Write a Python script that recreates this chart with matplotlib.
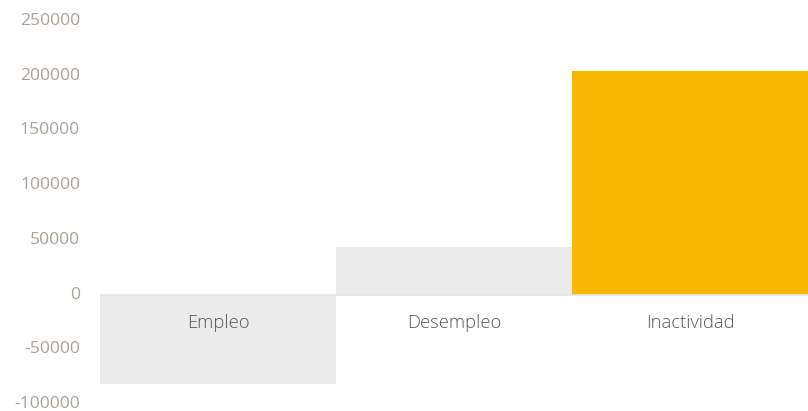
import matplotlib
matplotlib.use("Agg")
import matplotlib.pyplot as plt
from matplotlib.transforms import blended_transform_factory, offset_copy

categories = ["Empleo", "Desempleo", "Inactividad"]
values = [-81800, 43400, 204300]
colors = ["#ebebeb", "#ebebeb", "#f9b800"]
yticks = [-100000, -50000, 0, 50000, 100000, 150000, 200000, 250000]

plt.rcParams['font.family'] = ['Open Sans', 'DejaVu Sans']

fig = plt.figure(figsize=(8.08, 4.11), dpi=100)
ax = fig.add_axes([100/808, 7/411, 708/808, 383/411])

x = list(range(len(categories)))
ax.bar(x, values, width=1.0, color=colors, zorder=2)
ax.axhline(0, color="#e4e4e4", linewidth=1.2, zorder=3)

ax.set_xlim(-0.5, 2.5)
ax.set_ylim(-100000, 250000)
ax.set_yticks(yticks)
ax.set_yticklabels([])
ax.tick_params(axis='y', length=0)
ax.set_xticks([])
for s in ax.spines.values():
    s.set_visible(False)

trans = blended_transform_factory(ax.transAxes, ax.transData)
trans = offset_copy(trans, fig=fig, x=-20, y=0, units='dots')
for t in yticks:
    ax.text(0, t, str(t), transform=trans, ha='right', va='center',
            fontsize=12.6, color="#aba298", fontweight='normal', clip_on=False)

for xi, c in zip(x, categories):
    ax.annotate(c, xy=(xi, 0), xytext=(0, -28), textcoords='offset pixels',
                ha='center', va='center', fontsize=13.2, color="#5e5750",
                fontweight='light', zorder=4)

fig.savefig("out.png", dpi=100)
